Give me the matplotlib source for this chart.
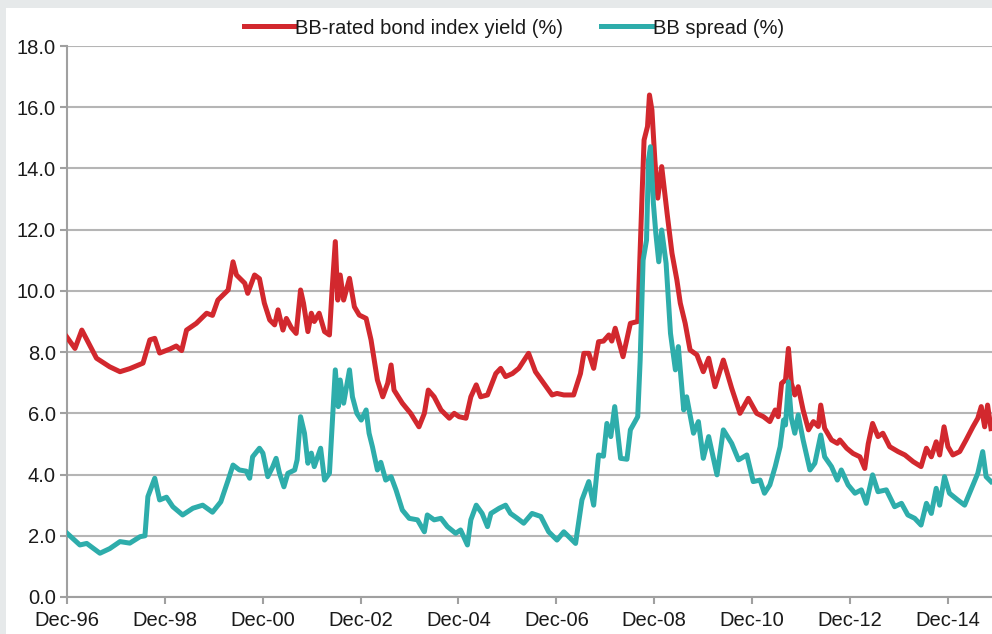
import matplotlib
matplotlib.use("Agg")
import matplotlib.pyplot as plt

# time axis in decimal years (Dec-96 = 1996.917), values in %
yield_t = [1996.91, 1997.08, 1997.22, 1997.52, 1997.79, 1998.00, 1998.20, 1998.47,
           1998.61, 1998.71, 1998.81, 1999.02, 1999.15, 1999.26, 1999.36, 1999.56,
           1999.77, 1999.89, 2000.00, 2000.21, 2000.31, 2000.38, 2000.55, 2000.61,
           2000.75, 2000.85, 2000.95, 2001.06, 2001.16, 2001.23, 2001.33, 2001.40,
           2001.50, 2001.60, 2001.69, 2001.75, 2001.84, 2001.91, 2001.97, 2002.07,
           2002.18, 2002.28, 2002.33, 2002.40, 2002.45, 2002.50, 2002.57, 2002.69,
           2002.79, 2002.89, 2003.03, 2003.13, 2003.26, 2003.37, 2003.47, 2003.54,
           2003.60, 2003.77, 2003.94, 2004.11, 2004.22, 2004.30, 2004.42, 2004.56,
           2004.73, 2004.83, 2004.93, 2005.07, 2005.17, 2005.28, 2005.37, 2005.51,
           2005.68, 2005.78, 2005.88, 2006.02, 2006.15, 2006.35, 2006.49, 2006.66,
           2006.83, 2006.93, 2007.07, 2007.27, 2007.41, 2007.48, 2007.58, 2007.68,
           2007.78, 2007.88, 2007.99, 2008.05, 2008.12, 2008.28, 2008.43, 2008.58,
           2008.67, 2008.71, 2008.78, 2008.82, 2008.87, 2008.93, 2008.99, 2009.07,
           2009.18, 2009.28, 2009.38, 2009.45, 2009.55, 2009.65, 2009.79, 2009.92,
           2010.03, 2010.16, 2010.33, 2010.50, 2010.67, 2010.84, 2011.01, 2011.15,
           2011.28, 2011.39, 2011.45, 2011.52, 2011.60, 2011.66, 2011.72, 2011.79,
           2011.86, 2011.96, 2012.07, 2012.17, 2012.27, 2012.32, 2012.40, 2012.54,
           2012.66, 2012.71, 2012.85, 2012.98, 2013.12, 2013.22, 2013.29, 2013.38,
           2013.49, 2013.59, 2013.73, 2013.90, 2014.04, 2014.21, 2014.37, 2014.48,
           2014.58, 2014.68, 2014.75, 2014.84, 2014.92, 2015.02, 2015.16, 2015.29,
           2015.43, 2015.53, 2015.60, 2015.67, 2015.73, 2015.80]
yield_v = [8.50, 8.12, 8.72, 7.80, 7.52, 7.36, 7.46, 7.64,
           8.40, 8.45, 7.97, 8.10, 8.20, 8.05, 8.72, 8.94,
           9.27, 9.20, 9.70, 10.03, 10.95, 10.52, 10.25, 9.92,
           10.52, 10.40, 9.60, 9.05, 8.89, 9.38, 8.72, 9.10,
           8.80, 8.61, 10.03, 9.60, 8.67, 9.27, 9.00, 9.27,
           8.67, 8.56, 9.92, 11.61, 9.70, 10.52, 9.70, 10.41,
           9.48, 9.21, 9.10, 8.40, 7.09, 6.54, 6.98, 7.58,
           6.76, 6.33, 6.00, 5.56, 6.00, 6.76, 6.54, 6.11,
           5.84, 6.00, 5.89, 5.84, 6.54, 6.93, 6.54, 6.60,
           7.30, 7.47, 7.20, 7.30, 7.47, 7.96, 7.36, 6.98,
           6.60, 6.65, 6.60, 6.60, 7.30, 7.96, 7.96, 7.47,
           8.34, 8.36, 8.56, 8.36, 8.78, 7.85, 8.94, 9.00,
           13.19, 14.93, 15.37, 16.40, 15.91, 14.28, 13.03, 14.06,
           12.54, 11.23, 10.36, 9.60, 8.94, 8.07, 7.91, 7.36,
           7.80, 6.87, 7.74, 6.82, 6.00, 6.49, 6.00, 5.89,
           5.73, 6.11, 5.89, 6.98, 7.09, 8.12, 6.98, 6.60,
           6.87, 6.11, 5.46, 5.73, 5.57, 6.27, 5.51, 5.13,
           5.02, 5.13, 4.86, 4.69, 4.58, 4.20, 5.00, 5.67,
           5.24, 5.35, 4.91, 4.75, 4.64, 4.42, 4.26, 4.86,
           4.58, 5.07, 4.64, 5.56, 4.91, 4.64, 4.75, 5.13,
           5.56, 5.84, 6.22, 5.56, 6.27, 5.50]

spread_t = [1996.92, 1997.18, 1997.32, 1997.59, 1997.79, 1998.00, 1998.20, 1998.41,
            1998.51, 1998.57, 1998.71, 1998.81, 1998.95, 1999.08, 1999.28, 1999.49,
            1999.69, 1999.89, 2000.06, 2000.21, 2000.31, 2000.44, 2000.58, 2000.65,
            2000.71, 2000.85, 2000.92, 2001.02, 2001.12, 2001.19, 2001.26, 2001.35,
            2001.43, 2001.57, 2001.62, 2001.69, 2001.77, 2001.84, 2001.91, 2001.97,
            2002.10, 2002.18, 2002.28, 2002.33, 2002.40, 2002.46, 2002.50, 2002.57,
            2002.69, 2002.75, 2002.84, 2002.93, 2003.03, 2003.09, 2003.16, 2003.26,
            2003.33, 2003.43, 2003.54, 2003.64, 2003.77, 2003.91, 2004.08, 2004.22,
            2004.28, 2004.42, 2004.56, 2004.69, 2004.86, 2004.96, 2005.10, 2005.17,
            2005.28, 2005.40, 2005.51, 2005.58, 2005.75, 2005.88, 2005.98, 2006.12,
            2006.25, 2006.42, 2006.60, 2006.76, 2006.93, 2007.07, 2007.31, 2007.44,
            2007.58, 2007.68, 2007.78, 2007.88, 2007.95, 2008.03, 2008.11, 2008.23,
            2008.36, 2008.43, 2008.58, 2008.63, 2008.69, 2008.76, 2008.80, 2008.84,
            2008.90, 2008.95, 2009.01, 2009.07, 2009.16, 2009.25, 2009.35, 2009.41,
            2009.52, 2009.58, 2009.72, 2009.82, 2009.92, 2010.03, 2010.20, 2010.33,
            2010.50, 2010.64, 2010.81, 2010.94, 2011.08, 2011.17, 2011.28, 2011.39,
            2011.49, 2011.56, 2011.60, 2011.66, 2011.72, 2011.79, 2011.86, 2011.96,
            2012.10, 2012.20, 2012.32, 2012.40, 2012.54, 2012.66, 2012.74, 2012.88,
            2013.02, 2013.15, 2013.25, 2013.38, 2013.49, 2013.66, 2013.83, 2013.97,
            2014.10, 2014.24, 2014.37, 2014.48, 2014.58, 2014.68, 2014.75, 2014.85,
            2014.95, 2015.12, 2015.26, 2015.39, 2015.53, 2015.63, 2015.70, 2015.80]
spread_v = [2.08, 1.70, 1.75, 1.43, 1.58, 1.81, 1.76, 1.97,
            2.00, 3.28, 3.88, 3.17, 3.26, 2.95, 2.68, 2.90,
            3.00, 2.77, 3.11, 3.82, 4.31, 4.15, 4.11, 3.88,
            4.58, 4.86, 4.70, 3.93, 4.25, 4.53, 4.04, 3.60,
            4.04, 4.15, 4.48, 5.89, 5.35, 4.37, 4.70, 4.26,
            4.86, 3.82, 4.04, 5.46, 7.42, 6.22, 7.09, 6.33,
            7.42, 6.54, 6.00, 5.78, 6.11, 5.35, 4.90, 4.15,
            4.40, 3.82, 3.93, 3.50, 2.84, 2.57, 2.52, 2.13,
            2.68, 2.52, 2.57, 2.30, 2.08, 2.19, 1.70, 2.52,
            3.00, 2.73, 2.30, 2.73, 2.90, 3.00, 2.73, 2.57,
            2.41, 2.73, 2.63, 2.13, 1.86, 2.13, 1.75, 3.17,
            3.77, 3.00, 4.64, 4.60, 5.67, 5.24, 6.22, 4.53,
            4.50, 5.46, 5.89, 7.74, 11.00, 11.66, 14.28, 14.71,
            12.86, 11.88, 10.95, 11.99, 10.90, 8.61, 7.42, 8.18,
            6.11, 6.54, 5.35, 5.73, 4.53, 5.24, 3.99, 5.46,
            5.02, 4.48, 4.64, 3.77, 3.82, 3.39, 3.66, 4.26,
            4.91, 5.78, 5.62, 7.03, 5.84, 5.35, 5.95, 5.13,
            4.15, 4.37, 5.29, 4.58, 4.26, 3.82, 4.15, 3.66,
            3.39, 3.50, 3.06, 3.99, 3.44, 3.50, 2.95, 3.06,
            2.68, 2.57, 2.35, 3.06, 2.73, 3.55, 3.00, 3.93,
            3.39, 3.17, 3.00, 3.50, 4.04, 4.75, 3.93, 3.77]

tick_pos = [1996.917 + 2 * i for i in range(10)]
tick_labels = ["Dec-96", "Dec-98", "Dec-00", "Dec-02", "Dec-04",
               "Dec-06", "Dec-08", "Dec-10", "Dec-12", "Dec-14"]
y_ticks = [0, 2, 4, 6, 8, 10, 12, 14, 16, 18]

RED = "#d2282e"
TEAL = "#2eadab"
GRID = "#b5b5b5"
TXT = "#1a1a1a"

plt.rcParams["font.family"] = ["Liberation Sans", "DejaVu Sans"]

fig = plt.figure(figsize=(9.92, 6.34), dpi=100)
fig.patch.set_facecolor("#e6e9ea")

# white panel inside the grey frame
bg = fig.add_axes([6 / 992, 0, 1 - 6 / 992, 1 - 8 / 634], zorder=0)
bg.set_facecolor("white")
bg.set_xticks([]); bg.set_yticks([])
for s in bg.spines.values():
    s.set_visible(False)

ax = fig.add_axes([67 / 992, 1 - 597 / 634, 1 - 67 / 992, (597 - 46) / 634], zorder=1)
ax.set_facecolor("none")

ax.plot(yield_t, yield_v, color=RED, lw=3.6, solid_joinstyle="round",
        label="BB-rated bond index yield (%)", zorder=3)
ax.plot(spread_t, spread_v, color=TEAL, lw=3.6, solid_joinstyle="round",
        label="BB spread (%)", zorder=4)

ax.set_xlim(1996.917, 2015.82)
ax.set_ylim(0, 18)
ax.set_yticks(y_ticks)
ax.set_yticklabels([f"{v:.1f}" for v in y_ticks])
ax.set_xticks(tick_pos)
ax.set_xticklabels(tick_labels)
ax.yaxis.grid(True, color=GRID, lw=1.5)
ax.set_axisbelow(True)

for s in ["top", "right"]:
    ax.spines[s].set_visible(False)
for s in ["left", "bottom"]:
    ax.spines[s].set_color("#a0a0a0")
    ax.spines[s].set_linewidth(1.5)
ax.tick_params(axis="both", colors="#a0a0a0", width=1.5, length=5,
               labelsize=14.5, labelcolor=TXT)
ax.tick_params(axis="x", pad=5)
ax.tick_params(axis="y", pad=3)

fig.legend(loc="center", bbox_to_anchor=(0.518, 1 - 28 / 634), ncol=2,
           frameon=False, fontsize=14.5, handlelength=2.5, handletextpad=0.05,
           columnspacing=1.9, borderaxespad=0, labelcolor=TXT)

fig.savefig("out.png", dpi=100)
